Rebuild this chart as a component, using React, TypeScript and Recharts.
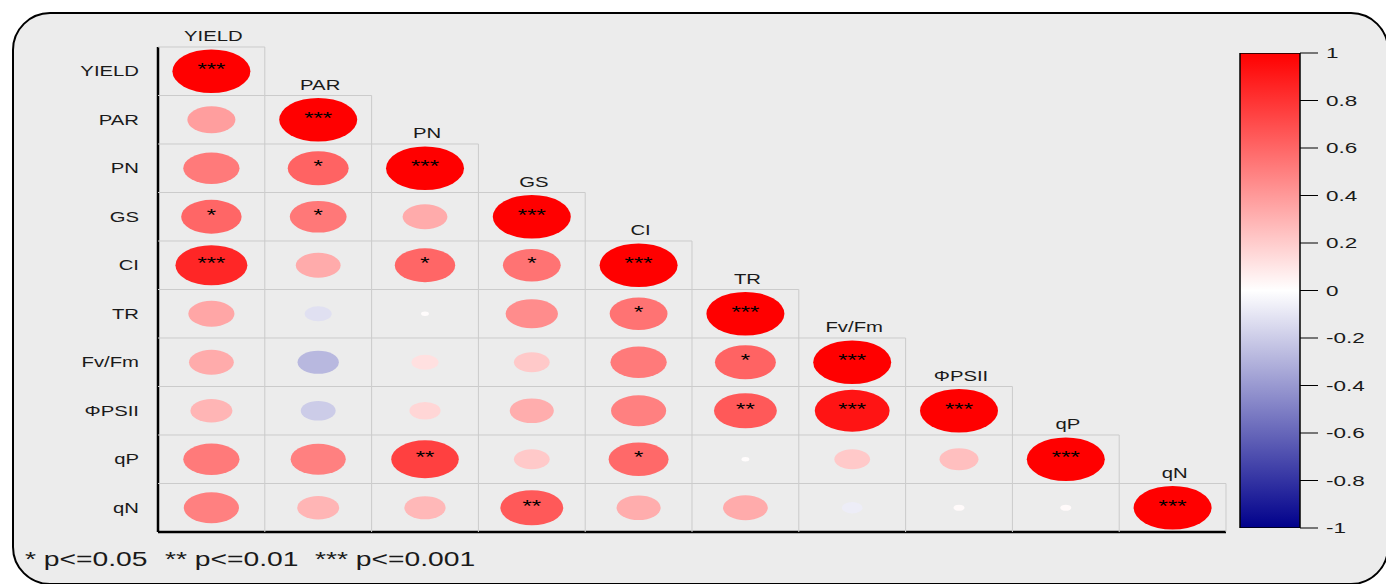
import {
  ScatterChart,
  Scatter,
  BarChart,
  Bar,
  XAxis,
  YAxis,
  ReferenceLine,
} from "recharts";

const VARS = ["YIELD", "PAR", "PN", "GS", "CI", "TR", "Fv/Fm", "ΦPSII", "qP", "qN"];

// lower triangle of the correlation matrix, one row per variable
const ROW_YIELD = [1];
const ROW_PAR = [0.38, 1];
const ROW_PN = [0.52, 0.61, 1];
const ROW_GS = [0.6, 0.53, 0.33, 1];
const ROW_CI = [0.85, 0.33, 0.6, 0.55, 1];
const ROW_TR = [0.35, -0.12, 0.01, 0.45, 0.55, 1];
const ROW_FVFM = [0.33, -0.28, 0.12, 0.21, 0.52, 0.61, 1];
const ROW_PSII = [0.29, -0.2, 0.16, 0.32, 0.5, 0.65, 0.92, 1];
const ROW_QP = [0.52, 0.5, 0.75, 0.21, 0.59, 0.01, 0.21, 0.25, 1];
const ROW_QN = [0.5, 0.29, 0.28, 0.65, 0.32, 0.33, -0.07, 0.02, 0.02, 1];

// significance marks, same layout
const SIG_YIELD = ["***"];
const SIG_PAR = ["", "***"];
const SIG_PN = ["", "*", "***"];
const SIG_GS = ["*", "*", "", "***"];
const SIG_CI = ["***", "", "*", "*", "***"];
const SIG_TR = ["", "", "", "", "*", "***"];
const SIG_FVFM = ["", "", "", "", "", "*", "***"];
const SIG_PSII = ["", "", "", "", "", "**", "***", "***"];
const SIG_QP = ["", "", "**", "", "*", "", "", "", "***"];
const SIG_QN = ["", "", "", "**", "", "", "", "", "", "***"];

const COLORBAR_TICKS = [-1, -0.8, -0.6, -0.4, -0.2, 0, 0.2, 0.4, 0.6, 0.8, 1];
const COLORBAR_RANGE = [{ name: "r", range: [-1, 1] }];
const LEGEND_ITEMS = ["* p<=0.05", "** p<=0.01", "*** p<=0.001"];

const ROWS = [ROW_YIELD, ROW_PAR, ROW_PN, ROW_GS, ROW_CI, ROW_TR, ROW_FVFM, ROW_PSII, ROW_QP, ROW_QN];
const SIGS = [SIG_YIELD, SIG_PAR, SIG_PN, SIG_GS, SIG_CI, SIG_TR, SIG_FVFM, SIG_PSII, SIG_QP, SIG_QN];

const cells: { x: number; y: number; r: number; sig: string }[] = [];
ROWS.forEach((row, i) => {
  row.forEach((r, j) => {
    cells.push({ x: j, y: i, r, sig: SIGS[i][j] });
  });
});

const FONT = "'Liberation Sans', Arial, sans-serif";
const STRETCH = 1.45;

// plot area: 158..1226 by 47..532
const CELL_W = 106.8;
const CELL_H = 48.5;

function corrColor(r: number) {
  if (r >= 0) {
    const v = Math.round(255 * (1 - r));
    return `rgb(255,${v},${v})`;
  }
  const t = -r;
  const v = Math.round(255 * (1 - t));
  const b = Math.round(255 - 116 * t);
  return `rgb(${v},${v},${b})`;
}

const CellShape = (props: any) => {
  const { cx, cy, payload } = props;
  const { x, y, r, sig } = payload;
  const s = Math.sqrt(Math.abs(r));
  const left = cx - CELL_W / 2;
  const top = cy - CELL_H / 2;
  return (
    <g>
      <line x1={left} y1={top} x2={left + CELL_W} y2={top} stroke="#cbcbcb" strokeWidth={1} />
      <line x1={left + CELL_W} y1={top} x2={left + CELL_W} y2={top + CELL_H} stroke="#cbcbcb" strokeWidth={1} />
      <ellipse cx={cx} cy={cy} rx={39 * s} ry={21.8 * s} fill={corrColor(r)} />
      {sig && (
        <g transform={`translate(${cx},${cy + 4}) scale(1.5,1)`}>
          <text x={0} y={0} textAnchor="middle" fontSize={16} fontFamily={FONT} fill="#000">
            {sig}
          </text>
        </g>
      )}
      {x === y && (
        <g transform={`translate(${cx + 2},${top - 6}) scale(${STRETCH},1)`}>
          <text x={0} y={0} textAnchor="middle" fontSize={14} fontFamily={FONT} fill="#1a1a1a">
            {VARS[x]}
          </text>
        </g>
      )}
    </g>
  );
};

const RowTick = (props: any) => {
  const { x, y, payload } = props;
  return (
    <g transform={`translate(${x},${y + 5}) scale(${STRETCH},1)`}>
      <text x={0} y={0} textAnchor="end" fontSize={14} fontFamily={FONT} fill="#1a1a1a">
        {VARS[payload.value]}
      </text>
    </g>
  );
};

const BarTick = (props: any) => {
  const { x, y, payload } = props;
  const label = String(Math.round(payload.value * 10) / 10);
  return (
    <g transform={`translate(${x},${y + 5}) scale(1.5,1)`}>
      <text x={0} y={0} textAnchor="start" fontSize={15} fontFamily={FONT} fill="#1a1a1a">
        {label}
      </text>
    </g>
  );
};

export default function App() {
  return (
    <div
      style={{
        position: "absolute",
        left: 0,
        top: 0,
        width: 1386,
        height: 584,
        overflow: "hidden",
        background: "#fff",
        fontFamily: FONT,
      }}
    >
      <svg width={1} height={1} style={{ position: "absolute", left: 0, top: 0 }}>
        <defs>
          <linearGradient id="cbarGrad" x1="0" y1="0" x2="0" y2="1">
            <stop offset="0%" stopColor="#ff0000" />
            <stop offset="50%" stopColor="#ffffff" />
            <stop offset="100%" stopColor="#00008b" />
          </linearGradient>
        </defs>
      </svg>
      <div
        style={{
          position: "absolute",
          left: 12,
          top: 12,
          width: 1377,
          height: 573,
          boxSizing: "border-box",
          border: "2px solid #000",
          borderRadius: 38,
          background: "#ececec",
        }}
      />
      <div style={{ position: "absolute", left: 0, top: 0 }}>
        <ScatterChart width={1386} height={584} margin={{ top: 47, right: 160, bottom: 52, left: 18 }}>
          <XAxis type="number" dataKey="x" domain={[-0.5, 9.5]} hide />
          <YAxis
            type="number"
            dataKey="y"
            domain={[-0.5, 9.5]}
            reversed
            ticks={[0, 1, 2, 3, 4, 5, 6, 7, 8, 9]}
            interval={0}
            width={140}
            tickSize={0}
            tickMargin={19}
            tickLine={false}
            axisLine={{ stroke: "#000", strokeWidth: 2.5 }}
            tick={<RowTick />}
          />
          <Scatter data={cells} shape={CellShape} isAnimationActive={false} />
          <ReferenceLine y={9.5} stroke="#000" strokeWidth={2.5} />
        </ScatterChart>
      </div>
      <div style={{ position: "absolute", left: 1230, top: 43 }}>
        <BarChart
          width={150}
          height={495}
          data={COLORBAR_RANGE}
          barCategoryGap={0}
          margin={{ top: 10, right: 10, bottom: 10, left: 10 }}
        >
          <XAxis type="category" dataKey="name" hide />
          <YAxis
            orientation="right"
            type="number"
            domain={[-1, 1]}
            ticks={COLORBAR_TICKS}
            interval={0}
            width={70}
            tickSize={18}
            tickMargin={8}
            axisLine={false}
            tickLine={{ stroke: "#000", strokeWidth: 1 }}
            tick={<BarTick />}
            allowDataOverflow
          />
          <Bar
            dataKey="range"
            fill="url(#cbarGrad)"
            stroke="#000"
            strokeWidth={1.5}
            isAnimationActive={false}
          />
        </BarChart>
      </div>
      <svg width={1386} height={584} style={{ position: "absolute", left: 0, top: 0, pointerEvents: "none" }}>
        {LEGEND_ITEMS.map((t, i) => (
          <g key={t} transform={`translate(${[25, 165, 315][i]},566) scale(${STRETCH},1)`}>
            <text x={0} y={0} fontSize={19.5} fontFamily={FONT} fill="#1a1a1a">
              {t}
            </text>
          </g>
        ))}
      </svg>
    </div>
  );
}
